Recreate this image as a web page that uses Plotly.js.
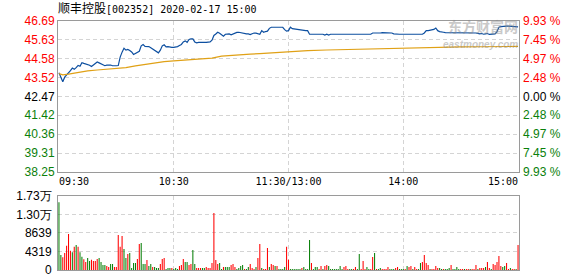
<!DOCTYPE html>
<html><head><meta charset="utf-8">
<script src="https://cdn.plot.ly/plotly-3.0.1.min.js"></script>
<style>html,body{margin:0;padding:0;background:#fff}#chart{width:578px;height:276px}</style>
</head><body><div id="chart"></div>
<script>
// ---- data ----
const stockTitle = '顺丰控股';
const stockCode = '[002352] 2020-02-17 15:00';
const priceTicks = [38.25, 39.31, 40.36, 41.42, 42.47, 43.52, 44.58, 45.63, 46.69];
const priceTickDir = ['g', 'g', 'g', 'g', 'k', 'r', 'r', 'r', 'r'];
const pctTickText = ['9.93 %', '7.45 %', '4.97 %', '2.48 %', '0.00 %', '2.48 %', '4.97 %', '7.45 %', '9.93 %'];
const volTicks = [0, 4319, 8639, 12958, 17278];
const volTickText = ['0', '4319', '8639', '1.30万', '1.73万'];
const timeTickVals = [60, 120, 180];
const timeTickText = ['10:30', '11:30/13:00', '14:00'];
const timeEdgeText = ['09:30', '15:00'];

const price = [
 43.80,43.50,43.30,43.55,43.66,43.75,43.92,44.06,43.99,44.08,
 44.21,44.16,44.36,44.32,44.30,44.26,44.22,44.15,44.24,44.32,
 44.40,44.35,44.30,44.26,44.19,44.22,44.24,44.23,44.19,44.21,
 44.19,44.20,44.67,44.95,45.17,45.06,45.10,45.04,44.96,44.82,
 44.88,44.95,45.00,45.30,45.37,45.27,45.28,45.26,45.20,45.13,
 45.06,45.00,44.91,45.06,45.30,45.36,45.24,45.26,45.22,45.22,
 45.22,45.23,45.26,45.32,45.38,45.52,45.58,45.50,45.66,45.69,
 45.69,45.52,45.47,45.49,45.48,45.50,45.50,45.50,45.52,45.52,
 45.62,45.88,45.96,46.06,46.01,45.90,45.84,45.95,45.97,45.97,
 45.92,45.97,45.99,46.05,46.06,46.03,45.99,45.97,45.97,45.97,
 45.93,45.98,46.02,46.01,46.00,45.95,46.15,46.06,46.10,46.12,
 46.28,46.34,46.34,46.34,46.34,46.34,46.34,46.34,46.21,46.12,
 46.15,46.34,46.26,46.24,46.21,46.21,46.21,46.17,46.15,46.15,
 46.15,45.95,45.95,45.95,45.95,45.95,45.95,45.95,45.95,45.90,
 45.95,45.90,45.95,45.95,45.95,45.95,45.95,45.95,45.95,45.95,
 45.95,45.95,45.95,45.95,45.95,45.95,45.95,45.95,45.95,45.95,
 45.95,45.95,45.95,45.95,46.02,46.02,45.99,46.02,46.02,46.04,
 46.04,46.02,46.04,46.06,46.02,45.97,45.95,45.95,45.95,45.95,
 45.95,45.95,45.95,45.95,45.95,45.95,45.95,45.95,45.95,45.95,
 45.95,46.02,46.15,46.15,46.17,46.19,46.22,46.30,46.15,46.10,
 46.06,46.06,46.04,46.04,46.06,46.06,46.04,46.04,46.04,46.02,
 46.02,46.04,46.04,46.04,46.04,46.04,46.04,46.02,46.02,46.00,
 45.97,45.99,45.95,45.97,45.99,45.94,45.96,45.98,45.97,46.10,
 46.34,46.38,46.40,46.40,46.40,46.40,46.40,46.40,46.40,46.36,
 46.36
];

const avgMinute = [0, 2, 5, 10, 15, 20, 25, 30, 35, 40, 45, 50, 55, 60, 65, 70, 75, 80, 85, 90, 95, 100, 105, 110, 115, 120, 125, 130, 140, 150, 160, 170, 180, 190, 200, 210, 220, 230, 240];
const avgPrice = [43.75, 43.68, 43.72, 43.82, 43.90, 43.95, 44.00, 44.01, 44.08, 44.18, 44.27, 44.35, 44.42, 44.46, 44.49, 44.54, 44.58, 44.62, 44.73, 44.78, 44.81, 44.84, 44.87, 44.91, 44.95, 44.98, 45.01, 45.03, 45.07, 45.10, 45.13, 45.15, 45.17, 45.20, 45.23, 45.24, 45.25, 45.26, 45.27];

const volume = [
 15800,3500,2960,3970,5680,8400,4510,4120,5450,5840,
 5400,4120,3110,2500,1870,2800,2100,2410,2100,2100,
 2570,2800,1870,1170,1170,930,700,1400,1400,700,
 700,8170,5450,7940,4900,2800,3730,3970,470,1630,
 1630,2570,6070,6300,1400,1400,2330,930,1400,700,
 700,470,470,1400,2570,2800,230,470,470,470,
 230,470,230,930,1170,2570,1870,1870,1170,1400,
 4670,1400,470,470,470,470,470,700,470,470,
 1630,13300,2330,1400,1630,230,700,700,700,700,
 1170,1400,700,230,470,930,1170,230,230,700,
 1400,470,230,700,2800,6070,470,230,230,5130,
 700,1400,1170,930,930,230,230,230,700,5400,
 2400,230,230,230,230,230,230,470,700,230,
 230,7000,1630,230,700,700,230,930,230,930,
 1170,930,230,230,230,230,230,930,230,700,
 930,230,230,230,230,700,230,3730,230,2100,
 230,700,230,230,3030,3970,230,230,470,230,
 230,230,700,230,230,230,470,700,230,230,
 230,230,930,700,930,230,700,230,230,1630,
 1870,3500,1630,1170,230,230,230,930,470,470,
 230,230,230,230,470,1170,230,230,700,230,
 230,230,230,230,230,230,230,230,1170,230,
 470,470,470,700,1870,470,230,1400,1170,1870,
 3270,930,700,930,1630,230,470,230,230,230,
 5840
];
const volDir = (
 'ggrrrrrgrg' + 'rggrrggrrr' + 'rggggrrggr' + 'rrrrggrggg' + 'grrgggrggr' +
 'gggrrrgggr' + 'gggrrrggrr' + 'ggrrrggrrr' + 'rrrrggrggg' + 'rrrggggrgg' +
 'rrrgrrgrrr' + 'grrgrggggr' + 'rggggggrg'  + 'g' + 'ggrgggrrgr' + 'rggggggggr' +
 'rrggrrggrr' + 'rggrrgrggr' + 'rrrgggrrgg' + 'grgrrgrrgg' + 'rrrrgrrrrg' +
 'grgggrgggg' + 'rrgrrgrrrg' + 'rrrgrrgrrr' + 'rrggrrgrrg' + 'r'
).split('');

// ---- styling ----
const RED = '#ff0000', GREEN = '#0a800a', BLACK = '#000000';
const dirColor = d => d === 'r' ? RED : (d === 'g' ? GREEN : BLACK);
const minutes = price.map((_, i) => i);
const volMinutes = volume.map((_, i) => i);

const priceTickText = priceTicks.map((v, i) => '<span style="color:' + dirColor(priceTickDir[i]) + '">' + v.toFixed(2) + '</span>');
const pctText = pctTickText.map((t, i) => '<span style="color:' + dirColor(priceTickDir[i]) + '">' + t + '</span>');

const gridStyle = {showgrid: true, gridcolor: '#d4d4d4', gridwidth: 1, griddash: '4px,3px', zeroline: false, ticks: '', fixedrange: true, ticklabeloverflow: 'allow'};
const frame = {showline: true, mirror: true, linecolor: '#9a9a9a', linewidth: 1};
const xr = [-0.5, 240.5];

const traces = [
  {type: 'scatter', mode: 'lines', x: minutes, y: price, xaxis: 'x', yaxis: 'y',
   line: {color: '#0d4fa0', width: 1.2}, hoverinfo: 'skip'},
  {type: 'scatter', mode: 'lines', x: avgMinute, y: avgPrice, xaxis: 'x', yaxis: 'y2',
   line: {color: '#e0a116', width: 1.2}, hoverinfo: 'skip'},
  {type: 'bar', x: volMinutes, y: volume, xaxis: 'x2', yaxis: 'y3',
   marker: {color: volDir.map(dirColor), line: {width: 0}}, hoverinfo: 'skip'}
];

const layout = {
  width: 578, height: 276,
  margin: {l: 58, r: 59, t: 21, b: 6, pad: 0},
  paper_bgcolor: '#ffffff', plot_bgcolor: '#ffffff',
  showlegend: false, bargap: 0.45,
  title: {
    text: stockTitle + '<span style="font-family:DejaVu Sans Mono;font-size:10px">' + stockCode + '</span>',
    x: 0, xref: 'paper', xanchor: 'left', y: 1 - 9 / 276, yref: 'container', yanchor: 'middle',
    font: {family: 'Noto Sans CJK SC', size: 12, color: '#000'}
  },
  xaxis: Object.assign({}, gridStyle, frame, {domain: [0, 1], anchor: 'y', range: xr,
    tickmode: 'array', tickvals: timeTickVals, ticktext: timeTickText,
    tickfont: {family: 'DejaVu Sans Mono', size: 10, color: '#000'}}),
  yaxis: Object.assign({}, gridStyle, frame, {domain: [0.3936, 1], anchor: 'x', range: [38.25, 46.69],
    tickmode: 'array', tickvals: priceTicks, ticktext: priceTickText,
    tickfont: {family: 'Liberation Sans', size: 12}}),
  yaxis2: {overlaying: 'y', side: 'right', anchor: 'x', range: [38.25, 46.69], showgrid: false, zeroline: false,
    showline: false, ticks: '', tickmode: 'array', tickvals: priceTicks, ticktext: pctText,
    ticklabelstandoff: 3, ticklabeloverflow: 'allow', fixedrange: true, tickfont: {family: 'Liberation Sans', size: 12}},
  xaxis2: Object.assign({}, gridStyle, frame, {domain: [0, 1], anchor: 'y3', range: xr,
    tickmode: 'array', tickvals: timeTickVals, showticklabels: false}),
  yaxis3: Object.assign({}, gridStyle, frame, {domain: [0, 0.2972], anchor: 'x2', range: [0, 17278],
    tickmode: 'array', tickvals: volTicks, ticktext: volTickText, ticklabelstandoff: 3,
    tickfont: {family: 'Liberation Sans', size: 12, color: '#000'}}),
  annotations: [
    {text: timeEdgeText[0], xref: 'paper', yref: 'paper', x: 0, y: 0.3574, xanchor: 'left', yanchor: 'middle',
     showarrow: false, borderpad: 0, font: {family: 'DejaVu Sans Mono', size: 10, color: '#000'}},
    {text: timeEdgeText[1], xref: 'paper', yref: 'paper', x: 1, y: 0.3574, xanchor: 'right', yanchor: 'middle',
     showarrow: false, borderpad: 0, font: {family: 'DejaVu Sans Mono', size: 10, color: '#000'}},
    {text: '<b>东方财富网</b>', xref: 'paper', yref: 'paper', x: 1, y: 0.935, xanchor: 'right', yanchor: 'bottom',
     showarrow: false, borderpad: 0, opacity: 0.45, font: {family: 'Noto Sans CJK SC', size: 14, color: '#8a8a8a'}},
    {text: '<b><i>eastmoney.com</i></b>', xref: 'paper', yref: 'paper', x: 1, y: 0.93, xanchor: 'right', yanchor: 'top',
     showarrow: false, borderpad: 0, opacity: 0.45, font: {family: 'Liberation Sans', size: 10, color: '#8a8a8a'}}
  ]
};

Plotly.newPlot('chart', traces, layout, {staticPlot: true, displayModeBar: false});
</script>
</body></html>
